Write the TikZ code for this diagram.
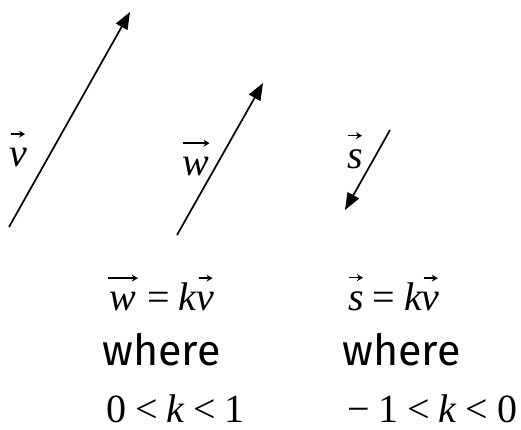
\documentclass[tikz,border=0pt]{standalone}
\usepackage{fix-cm}
\usepackage{amsmath}
\usepackage{fontspec}
\setmainfont{Liberation Serif}
\newfontfamily\serifit{Liberation Serif}
\newfontfamily\handfont{Fira Sans}
\usetikzlibrary{arrows.meta,positioning}
\tikzset{vecline/.style={line width=1.7pt,-{Triangle[length=17pt,width=13pt]}},
  overline/.style={line width=1.4pt,-{Stealth[length=6pt,width=7pt]}},
  mathlbl/.style={inner sep=0pt,anchor=base,font=\fontsize{40}{44}\selectfont},
  eqtext/.style={inner sep=0pt,anchor=base west,font=\fontsize{40}{44}\selectfont},
  wheretext/.style={inner sep=0pt,anchor=base west,font=\handfont\fontsize{43}{46}\selectfont}}
\newcommand{\lv}[1]{\text{\serifit\itshape #1}}
\newcommand{\nm}[1]{\text{\serifit #1}}
\newcommand{\ovec}[2][14pt]{\overset{\raisebox{5pt}{\tikz\draw[overline] (0pt,0pt) -- (#1,0pt);}}{\lv{#2}}}
\newcommand{\teq}{\mathrel{\nm{=}}}
\newcommand{\tlt}{\mathrel{\nm{<}}}
\newcommand{\vecarrow}[2]{\draw[vecline] (#1) -- (#2);}
\thickmuskip=4mu

\begin{document}
\begin{tikzpicture}[x=1pt,y=-1pt]
\useasboundingbox (0,0) rectangle (521,429);
\coordinate (v0) at (9,227); \coordinate (v1) at (130,12);
\coordinate (w0) at (177,235); \coordinate (w1) at (263,83);
\coordinate (s0) at (390,130); \coordinate (s1) at (345,210);
\vecarrow{v0}{v1} \vecarrow{w0}{w1} \vecarrow{s0}{s1}
\node[mathlbl] (vlab) at (18,166) {$\ovec{v}$};
\node[mathlbl] (wlab) at (196,175) {$\ovec[27pt]{w}$};
\node[mathlbl] (slab) at (355,168) {$\ovec{s}$};
\node[eqtext] (weq) at (107,310) {$\ovec[30pt]{w}\teq\lv{k}\ovec{v}$};
\node[eqtext] (seq) at (348,310) {$\ovec{s}\teq\lv{k}\ovec{v}$};
\node[wheretext] (wwhere) at (102,365) {where};
\node[wheretext] (swhere) at (342,365) {where};
\node[eqtext] (wrange) at (106,422) {$\nm{0}\tlt\lv{k}\tlt\nm{1}$};
\node[eqtext] (srange) at (347,422) {$\nm{−}\mkern4mu\nm{1}\tlt\lv{k}\tlt\nm{0}$};
\end{tikzpicture}
\end{document}
